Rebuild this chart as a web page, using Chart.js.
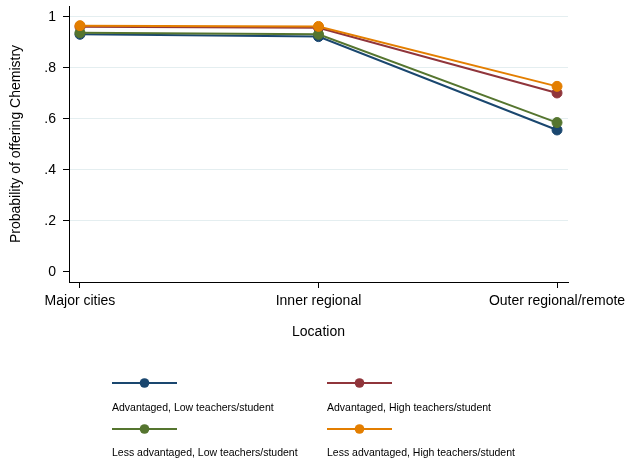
<!DOCTYPE html>
<html>
<head>
<meta charset="utf-8">
<script src="https://cdn.jsdelivr.net/npm/chart.js@4.4.1/dist/chart.umd.min.js"></script>
<style>
  html, body { margin: 0; padding: 0; background: #ffffff; }
  #wrap { width: 627px; height: 460px; }
</style>
</head>
<body>
<div id="wrap"><canvas id="c" width="627" height="460"></canvas></div>
<script>
// Categories on the x axis
const locations = ['Major cities', 'Inner regional', 'Outer regional/remote'];

// Series names (legend order)
const seriesNames = [
  'Advantaged, Low teachers/student',
  'Advantaged, High teachers/student',
  'Less advantaged, Low teachers/student',
  'Less advantaged, High teachers/student'
];

// Predicted probabilities per location
const advLow      = [0.931, 0.922, 0.556];
const advHigh     = [0.961, 0.957, 0.701];
const lessAdvLow  = [0.937, 0.931, 0.585];
const lessAdvHigh = [0.965, 0.962, 0.727];

// Y axis tick values and their labels
const yTicks = [0, 0.2, 0.4, 0.6, 0.8, 1];
const yTickLabels = ['0', '.2', '.4', '.6', '.8', '1'];

const seriesValues = [advLow, advHigh, lessAdvLow, lessAdvHigh];
const seriesColors = ['#1a476f', '#90353b', '#55752f', '#e37e00'];

const FONT_FAMILY = '"Liberation Sans", Arial, sans-serif';
const axisFont = { family: FONT_FAMILY, size: 14 };

const datasets = seriesNames.map((name, k) => ({
  label: name,
  data: seriesValues[k].map((v, i) => ({ x: i, y: v })),
  borderColor: seriesColors[k],
  backgroundColor: seriesColors[k],
  pointBackgroundColor: seriesColors[k],
  pointBorderColor: seriesColors[k],
  pointBorderWidth: 1,
  pointRadius: 5,
  borderWidth: 2,
  tension: 0,
  fill: false,
  clip: false,
  // later series are drawn on top
  order: seriesNames.length - k
}));

// Two-column legend: line with a centred marker, label underneath
const stataLegend = {
  id: 'stataLegend',
  afterDraw(chart) {
    const ctx = chart.ctx;
    const colX = [112, 327];
    const rows = [{ line: 383, text: 408 }, { line: 429, text: 453 }];
    const lineLen = 65;
    ctx.save();
    chart.data.datasets.forEach((ds, k) => {
      const col = k % 2, row = Math.floor(k / 2);
      const x0 = colX[col], yl = rows[row].line;
      ctx.strokeStyle = ds.borderColor;
      ctx.lineWidth = 2;
      ctx.beginPath();
      ctx.moveTo(x0, yl);
      ctx.lineTo(x0 + lineLen, yl);
      ctx.stroke();
      ctx.fillStyle = ds.borderColor;
      ctx.beginPath();
      ctx.arc(x0 + lineLen / 2, yl, 4.8, 0, Math.PI * 2);
      ctx.fill();
      ctx.fillStyle = '#000000';
      ctx.font = '10.5px ' + FONT_FAMILY;
      ctx.textAlign = 'left';
      ctx.textBaseline = 'middle';
      ctx.fillText(ds.label, x0, rows[row].text);
    });
    ctx.restore();
  }
};

new Chart(document.getElementById('c'), {
  type: 'line',
  data: { datasets },
  plugins: [stataLegend],
  options: {
    responsive: false,
    devicePixelRatio: 1,
    animation: false,
    layout: { padding: { top: 6, right: 59, bottom: 118, left: 0 } },
    plugins: {
      legend: { display: false },
      tooltip: { enabled: false }
    },
    scales: {
      x: {
        type: 'linear',
        min: -0.046,
        max: 2.046,
        afterBuildTicks: s => { s.ticks = locations.map((_, i) => ({ value: i })); },
        afterFit: s => {
          s.height = 60;
          s.paddingLeft = 0;
          s.paddingRight = 0;
        },
        ticks: {
          callback: (v, i) => locations[i],
          font: axisFont,
          color: '#000000',
          padding: 5,
          maxRotation: 0,
          autoSkip: false
        },
        grid: { drawOnChartArea: false, tickLength: 6, tickColor: '#000000', lineWidth: 1 },
        border: { color: '#000000', width: 1 },
        title: {
          display: true,
          text: 'Location',
          font: axisFont,
          color: '#000000',
          padding: { top: 0, bottom: 1 }
        }
      },
      y: {
        type: 'linear',
        min: -0.04,
        max: 1.042,
        afterBuildTicks: s => { s.ticks = yTicks.map(v => ({ value: v })); },
        afterFit: s => {
          s.width = 69;
          s.paddingTop = 0;
          s.paddingBottom = 0;
        },
        ticks: {
          callback: (v, i) => yTickLabels[i],
          font: axisFont,
          color: '#000000',
          padding: 7
        },
        grid: {
          color: c => (c.tick && c.tick.value === 0) ? 'rgba(0,0,0,0)' : '#e4eef0',
          lineWidth: 1,
          tickLength: 6,
          tickColor: '#000000'
        },
        border: { color: '#000000', width: 1 },
        title: {
          display: true,
          text: 'Probability of offering Chemistry',
          font: axisFont,
          color: '#000000',
          padding: { top: 8, bottom: 0 }
        }
      }
    }
  }
});
</script>
</body>
</html>
